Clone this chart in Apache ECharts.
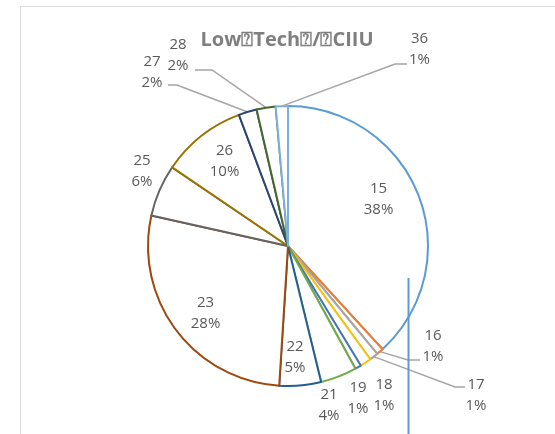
<!DOCTYPE html>
<html>
<head>
<meta charset="utf-8">
<script src="https://cdn.jsdelivr.net/npm/echarts@6/dist/echarts.min.js"></script>
<style>
  html, body { margin: 0; padding: 0; background: #fff; }
  #chart { width: 555px; height: 434px; }
</style>
</head>
<body>
<div id="chart"></div>
<script>
// CIIU divisions and their share of low-tech output
const categories = ['15', '16', '17', '18', '19', '21', '22', '23', '25', '26', '27', '28', '36'];
const shares = [38.2, 0.8, 1.0, 1.3, 0.7, 4.2, 4.8, 27.5, 6.0, 9.8, 2.1, 2.2, 1.4];
const titleText = 'Low\u2370Tech\u2370/\u2370CIIU';

// slice outline colours (Office palette)
const sliceColors = ['#5B9BD5', '#ED7D31', '#A5A5A5', '#FFC000', '#4472C4', '#70AD47',
  '#255E91', '#9E480E', '#636363', '#997300', '#264478', '#43682B', '#7CAFDD'];

const cx = 288, cy = 246, radius = 140;

// label placement, as offsets from the pie centre
const labelOffsets = [
  [90.5, -47], [145, 100.5], [188, 149.5], [96, 149], [70, 152.5], [41, 159.5],
  [7, 111.3], [-82.5, 67.7], [-146, -75], [-63.5, -85], [-136, -173.7], [-110, -191], [131.5, -196.7]
];
// leader lines: [elbow, end] offsets for labels that sit away from their slice
const leaders = {
  1: [[120, 114], [132, 114]],
  2: [[167, 141], [177, 141]],
  10: [[-111, -161], [-120, -161]],
  11: [[-76, -176], [-93, -176]],
  12: [[107, -182], [119, -182]]
};

const chart = echarts.init(document.getElementById('chart'), null, { renderer: 'canvas' });

const pieData = categories.map((c, i) => ({
  name: c,
  value: shares[i],
  itemStyle: { borderColor: sliceColors[i] },
  labelLine: { show: !!leaders[i] }
}));

chart.setOption({
  animation: false,
  backgroundColor: '#ffffff',
  title: {
    text: titleText,
    left: 287,
    top: 30,
    textAlign: 'center',
    padding: 0,
    textStyle: {
      fontFamily: 'Open Sans',
      fontWeight: 'bold',
      fontSize: 20,
      color: '#7f7f7f'
    }
  },
  graphic: [
    {
      type: 'rect',
      z: -1,
      shape: { x: 20.5, y: 6.5, width: 600, height: 500 },
      style: { fill: 'none', stroke: '#d9d9d9', lineWidth: 1 }
    },
    {
      type: 'line',
      z: 100,
      shape: { x1: 408.5, y1: 278, x2: 408.5, y2: 434 },
      style: { stroke: '#5B9BD5', lineWidth: 2 }
    }
  ],
  series: [{
    type: 'pie',
    center: [cx, cy],
    radius: radius,
    startAngle: 90,
    clockwise: true,
    avoidLabelOverlap: false,
    percentPrecision: 0,
    itemStyle: { color: '#ffffff', borderWidth: 2 },
    emphasis: { disabled: true },
    label: {
      show: true,
      position: 'outside',
      formatter: '{b}\n{d}%',
      fontFamily: 'Open Sans',
      fontSize: 15,
      lineHeight: 21,
      color: '#595959'
    },
    labelLine: {
      show: false,
      length: 10,
      length2: 10,
      lineStyle: { color: '#A5A5A5', width: 1.5 }
    },
    labelLayout: function (p) {
      const i = p.dataIndex;
      const off = labelOffsets[i];
      const out = {
        x: cx + off[0],
        y: cy + off[1],
        align: 'center',
        verticalAlign: 'middle'
      };
      const lead = leaders[i];
      if (lead && p.labelLinePoints) {
        const anchor = p.labelLinePoints[0];
        out.labelLinePoints = [
          [anchor[0], anchor[1]],
          [cx + lead[0][0], cy + lead[0][1]],
          [cx + lead[1][0], cy + lead[1][1]]
        ];
      }
      return out;
    },
    data: pieData
  }]
});
</script>
</body>
</html>
